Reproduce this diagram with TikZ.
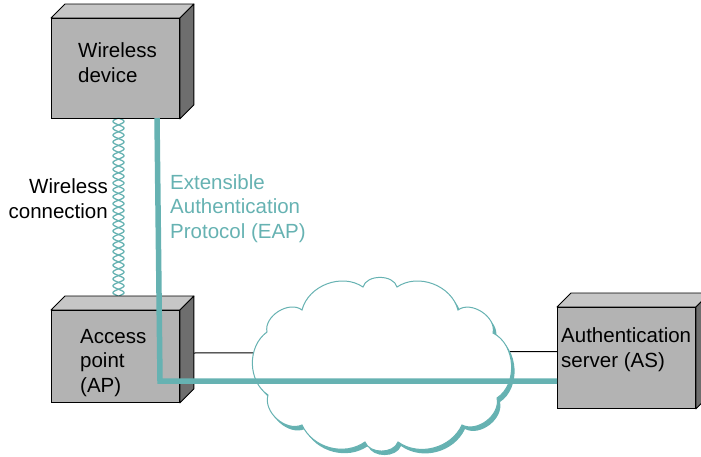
\documentclass[tikz,border=0pt]{standalone}
\usepackage{fontspec}
\setmainfont{Liberation Sans}
\usetikzlibrary{calc}
\definecolor{teal1}{RGB}{102,178,178}
\definecolor{boxfront}{RGB}{179,179,179}
\definecolor{boxtop}{RGB}{198,198,198}
\definecolor{boxside}{RGB}{110,110,110}
\begin{document}
\begin{tikzpicture}[x=1pt,y=-1pt,
  front/.style={draw=black, line width=0.9pt, fill=boxfront, inner sep=0pt, anchor=north west},
  topface/.style={draw=black, line width=0.9pt, fill=boxtop, line join=round},
  sideface/.style={draw=black, line width=0.9pt, fill=boxside, line join=round},
  txt/.style={font=\fontsize{20.5}{24.5}\selectfont, align=left, inner sep=0pt},
  eap/.style={draw=teal1, line width=5.5pt},
  helix/.style={draw=teal1, line width=1.3pt},
  link/.style={draw=black, line width=1pt},
  cloudpath/.style={insert path={(267,332) to[bend left=70] (302,310) to[bend left=55] (363,287)
     to[bend left=75] (397,287) to[bend left=55] (458,310) to[bend left=70] (493,333)
     to[bend left=60] (497,398) to[bend left=65] (462,425) to[bend left=50] (398,442)
     to[bend left=70] (365,442) to[bend left=50] (302,425) to[bend left=65] (268,395)
     to[bend left=55] (267,332) -- cycle}}
]
\useasboundingbox (0,0) rectangle (701,456);

% box front faces
\node[front, minimum width=128pt, minimum height=100pt] (wd) at (51,18) {};
\node[front, minimum width=128pt, minimum height=92pt] (ap) at (51,310) {};
\node[front, minimum width=138pt, minimum height=101pt] (as) at (557,307) {};

% wired links (cloud covers the middle)
\coordinate (apport) at (193,353);
\coordinate (asport) at (557,351.5);
\draw[link] (apport) -- (asport);

% cloud
\fill[teal1, shift={(3,4)}, cloudpath];
\path[fill=white, draw=teal1, line width=1pt, cloudpath];

% wireless helix
\draw[helix] plot[domain=0:178, samples=400, smooth] ({118.5+5.5*sin(26.277*\x)}, {118+\x});
\draw[helix] plot[domain=0:178, samples=400, smooth] ({118.5-5.5*sin(26.277*\x)}, {118+\x});

% 3D faces
\foreach \b in {wd,ap,as}{
  \filldraw[topface] (\b.north west) -- ++(14,-14) -- ($(\b.north east)+(14,-14)$) -- (\b.north east) -- cycle;
  \filldraw[sideface] (\b.north east) -- ++(14,-14) -- ($(\b.south east)+(14,-14)$) -- (\b.south east) -- cycle;
  \draw[line width=0.9pt] (\b.north west) rectangle (\b.south east);
}

% EAP path (drawn over the access point)
\coordinate (eaptop) at (157,118);
\coordinate (eapcorner) at (160,381);
\draw[eap] (eaptop) -- (eapcorner) -- (as.west |- eapcorner);

% texts (base anchor = baseline of the last line)
\node[txt, anchor=base west] (wdtext) at (78,82) {Wireless\\device};
\node[txt, anchor=base west] (aptext) at (80,392) {Access\\point\\(AP)};
\node[txt, anchor=base west] (astext) at (561,367) {Authentication\\server (AS)};
\node[txt, align=right, anchor=base east] (wctext) at (108,218) {Wireless\\connection};
\node[txt, text=teal1, anchor=base west] (eaptext) at (170,238) {Extensible\\Authentication\\Protocol (EAP)};
\end{tikzpicture}
\end{document}
